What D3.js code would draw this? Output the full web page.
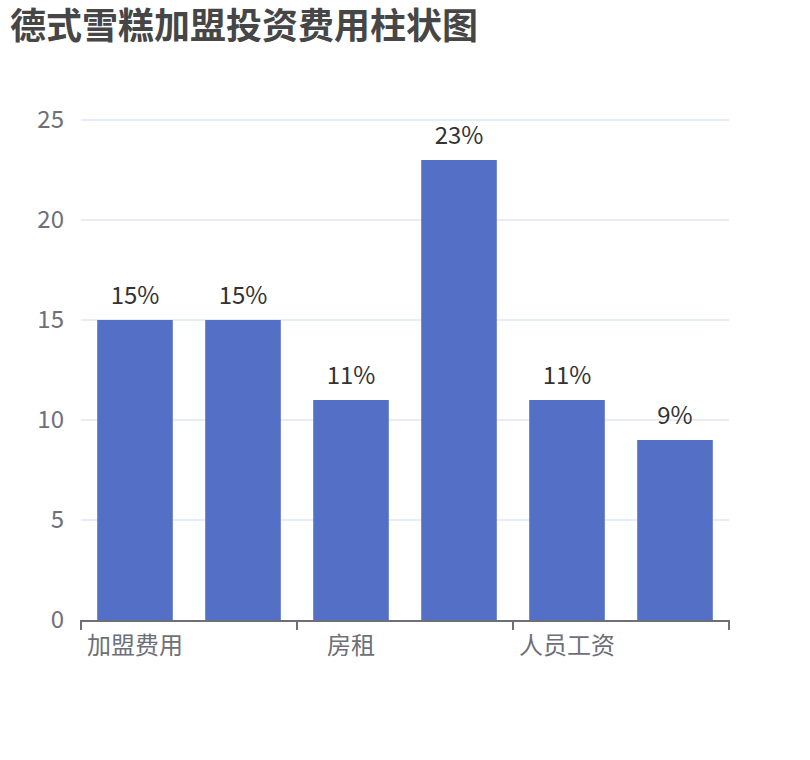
<!DOCTYPE html>
<html><head><meta charset="utf-8">
<script src="https://cdn.jsdelivr.net/npm/d3@7/dist/d3.min.js"></script>
<style>body{margin:0;background:#fff}svg{display:block;font-family:"Noto Sans CJK SC","Noto Sans",sans-serif}</style>
</head><body>
<script>
const categories = ["加盟费用","装修费用","房租","设备费用","人员工资","其他费用"];
const values = [15,15,11,23,11,9];
const labels = ["15%","15%","11%","23%","11%","9%"];
const yTicks = [0,5,10,15,20,25];
const titleText = "德式雪糕加盟投资费用柱状图";

(function(){
const W=810,H=760, gLeft=81, gRight=729, gTop=120, gBottom=620;
const svg=d3.select("body").append("svg").attr("width",W).attr("height",H);
const x=d3.scaleBand().domain(categories).range([gLeft,gRight]).paddingInner(0.3).paddingOuter(0.15);
const y=d3.scaleLinear().domain([0,25]).range([gBottom,gTop]);

svg.append("text").attr("x",10).attr("y",39).attr("font-size",36).attr("font-weight","bold").attr("fill","#464646").text(titleText);

// grid
svg.append("g").selectAll("line").data(yTicks.filter(d=>d>0)).join("line")
 .attr("x1",gLeft).attr("x2",gRight).attr("y1",d=>y(d)).attr("y2",d=>y(d))
 .attr("stroke","#E0E6F1").attr("stroke-width",1.5);
// y labels
svg.append("g").selectAll("text").data(yTicks).join("text")
 .attr("x",gLeft-17).attr("y",d=>y(d)).attr("dy","0.35em").attr("text-anchor","end")
 .attr("font-size",24).attr("fill","#6E7079").text(d=>d);

// bars
svg.append("g").selectAll("rect").data(values).join("rect")
 .attr("x",(d,i)=>x(categories[i])).attr("width",x.bandwidth())
 .attr("y",d=>y(d)).attr("height",d=>gBottom-y(d)).attr("fill","#5470C6");
svg.append("g").selectAll("text").data(values).join("text")
 .attr("x",(d,i)=>x(categories[i])+x.bandwidth()/2).attr("y",d=>y(d)-16)
 .attr("text-anchor","middle").attr("font-size",24).attr("fill","#333").text((d,i)=>labels[i]);

// x axis
const step=(gRight-gLeft)/categories.length;
svg.append("line").attr("x1",gLeft).attr("x2",gRight).attr("y1",gBottom+1).attr("y2",gBottom+1).attr("stroke","#6E7079").attr("stroke-width",2);
svg.append("g").selectAll("line").data([0,2,4,6]).join("line")
 .attr("x1",d=>gLeft+d*step).attr("x2",d=>gLeft+d*step).attr("y1",gBottom).attr("y2",gBottom+10)
 .attr("stroke","#6E7079").attr("stroke-width",2);
svg.append("g").selectAll("text").data(categories.filter((c,i)=>i%2===0)).join("text")
 .attr("x",d=>x(d)+x.bandwidth()/2).attr("y",646).attr("dy","0.35em").attr("text-anchor","middle")
 .attr("font-size",24).attr("fill","#6E7079").text(d=>d);
})();
</script>
</body></html>
